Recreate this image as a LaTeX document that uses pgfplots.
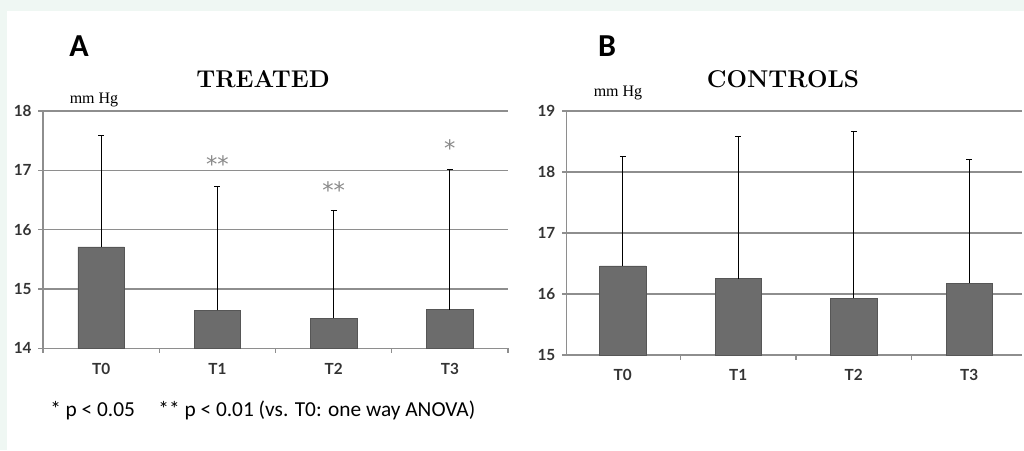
\documentclass[border=0pt]{standalone}
\usepackage{pgfplots}
\pgfplotsset{compat=1.18}
\usepackage{fontspec}
\newfontfamily\carlito{Carlito}
\newfontfamily\ticksf{Lato}
\newfontfamily\timesf{Liberation Serif}
\newfontfamily\starf{DejaVu Sans}
\definecolor{mint}{HTML}{EFF7F3}
\definecolor{bargray}{HTML}{6C6C6C}
\definecolor{gridgray}{HTML}{8E8E8E}
\definecolor{stargray}{HTML}{8A8A8A}

% mean and upper SD, mm Hg
\pgfplotstableread{
x y e
0 15.71 1.88
1 14.64 2.08
2 14.51 1.82
3 14.65 2.37
}\treated
\pgfplotstableread{
x y e
0 16.46 1.79
1 16.25 2.34
2 15.93 2.73
3 16.18 2.03
}\controls

\newcommand{\tickfont}{\ticksf\bfseries\fontsize{11.5}{12}\selectfont}
\newcommand{\starfont}{\starf\fontsize{17}{17}\selectfont}

\pgfplotsset{
  panel/.style={
    scale only axis,
    axis lines=left,
    axis line style={-, gridgray, line width=0.8pt},
    ymajorgrids,
    grid style={gridgray, line width=0.8pt},
    xtick={0,1,2,3},
    xticklabels={T0,T1,T2,T3},
    minor xtick={-0.5,0.5,1.5,2.5,3.5},
    major x tick style={draw=none},
    minor x tick style={gridgray, line width=0.8pt},
    y tick style={gridgray, line width=0.8pt},
    tick align=outside,
    major tick length=3.5pt,
    minor tick length=3.5pt,
    /pgf/number format/assume math mode=true,
    ticklabel style={font=\tickfont, text=black!80},
    xticklabel style={yshift=-4pt},
    yticklabel style={xshift=-1.5pt},
  },
  bars/.style={
    ybar, bar width=0.4, fill=bargray, draw=bargray!80!black, line width=0.4pt,
    error bars/.cd, y dir=plus, y explicit,
    error bar style={black, line width=0.7pt},
    error mark options={rotate=90, black, mark size=2.2pt, line width=0.7pt},
  },
}

\begin{document}
\begin{tikzpicture}
\fill[mint] (0,0) rectangle (768pt,-337.5pt);
\fill[white] ({7*0.75pt},{-11*0.75pt}) rectangle (768pt,-337.5pt);

\begin{axis}[panel,
  at={({43*0.75pt},{-348.3*0.75pt})}, anchor=south west,
  width={465*0.75pt}, height={237.3*0.75pt},
  xmin=-0.5, xmax=3.5, ymin=14, ymax=18, ytick={14,15,16,17,18}]
\addplot[bars] table[x=x, y=y, y error=e] {\treated};
\node[text=stargray, font=\starfont, inner sep=0pt] at (axis cs:1,17.10) {**};
\node[text=stargray, font=\starfont, inner sep=0pt] at (axis cs:2,16.67) {**};
\node[text=stargray, font=\starfont, inner sep=0pt] at (axis cs:3,17.38) {*};
\end{axis}

\begin{axis}[panel,
  at={({566.7*0.75pt},{-355*0.75pt})}, anchor=south west,
  width={455.3*0.75pt}, height={244*0.75pt},
  xmin=-0.485, xmax=3.457, ymin=15, ymax=19, ytick={15,16,17,18,19}]
\addplot[bars] table[x=x, y=y, y error=e] {\controls};
\end{axis}

\node[font=\carlito\bfseries\fontsize{24}{24}\selectfont] at ({79*0.75pt},{-46*0.75pt}) {A};
\node[font=\carlito\bfseries\fontsize{24}{24}\selectfont] at ({607*0.75pt},{-46*0.75pt}) {B};
\node[font=\bfseries\fontsize{18.2}{19}\selectfont] at ({263*0.75pt},{-79*0.75pt}) {TREATED};
\node[font=\bfseries\fontsize{18.2}{19}\selectfont] at ({783*0.75pt},{-79*0.75pt}) {CONTROLS};
\node[font=\timesf\fontsize{12}{12}\selectfont] at ({94*0.75pt},{-100*0.75pt}) {mm Hg};
\node[font=\timesf\fontsize{12}{12}\selectfont] at ({618*0.75pt},{-93*0.75pt}) {mm Hg};
\node[font=\carlito\fontsize{16}{16}\selectfont, anchor=west, inner sep=0pt] at ({50*0.75pt},{-410*0.75pt}) {* p {\textless} 0.05\hspace{1.1em}** p {\textless} 0.01 (vs. T0: one way ANOVA)};
\end{tikzpicture}
\end{document}
